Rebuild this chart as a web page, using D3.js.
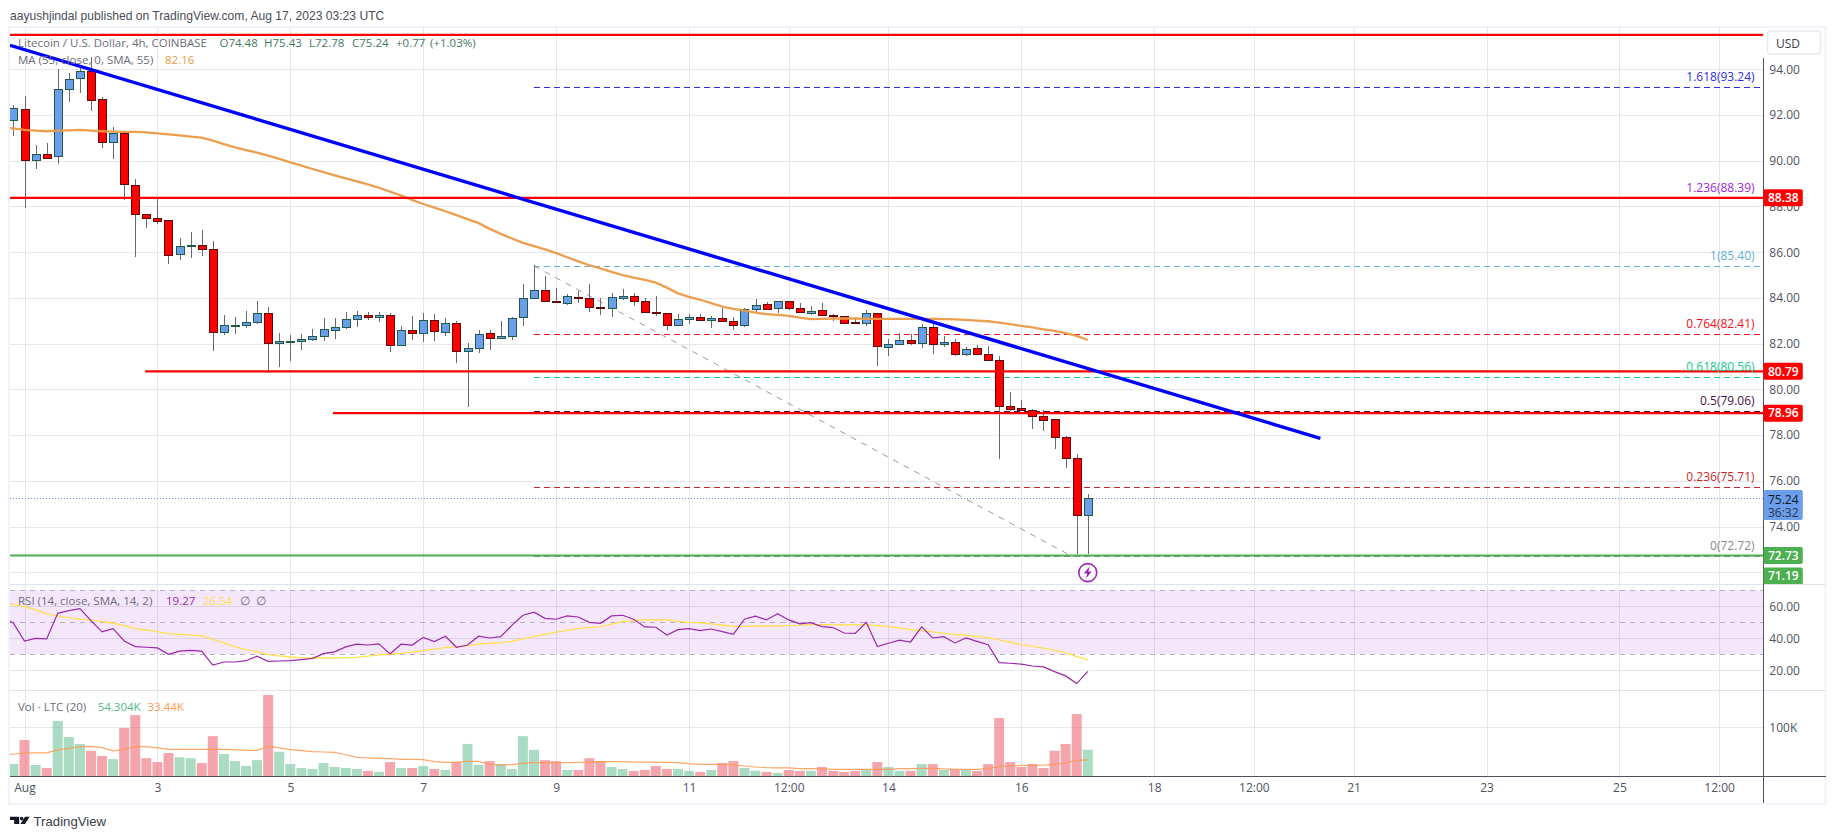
<!DOCTYPE html>
<html><head><meta charset="utf-8">
<script src="https://cdn.jsdelivr.net/npm/d3@7"></script>
<style>
html,body{margin:0;padding:0;background:#fff;overflow:hidden}
text{font-family:"Open Sans","Liberation Sans",sans-serif;font-size:12px}
</style></head><body>
<svg id="c" width="1835" height="839"></svg>
<script>
// candles: index 0 of these arrays is the candle before Aug 1 00:00 (4h candles)
const opens=[91.76,92.25,90.0,90.28,90.18,93.13,93.59,93.91,92.69,90.79,91.2,88.96,87.66,87.5,87.4,85.9,86.24,86.3,86.13,82.48,82.79,82.79,82.94,83.33,82.0,82.1,82.1,82.19,82.32,82.6,82.72,83.07,83.24,83.15,83.24,81.92,82.59,82.45,83.02,82.5,82.89,81.65,81.8,82.45,82.22,82.32,83.14,83.99,84.34,83.86,83.75,84.03,83.99,83.59,83.53,84.0,84.08,83.86,83.38,83.33,82.79,83.06,83.16,83.01,83.11,82.98,82.79,83.51,83.72,83.55,83.86,83.55,83.32,83.46,83.24,83.2,82.94,82.88,83.33,81.87,81.96,82.15,82.0,82.72,81.96,82.06,81.52,81.8,81.54,81.28,79.27,79.18,79.09,78.83,78.7,77.91,76.98,74.48];
const highs=[92.43,92.83,90.69,90.78,94.0,93.83,94.1,94.55,92.78,91.48,91.26,89.2,87.66,88.4,87.4,86.62,86.87,86.97,86.49,83.26,83.17,83.43,83.87,83.6,82.48,82.4,82.41,82.65,83.14,83.14,83.37,83.43,83.4,83.37,83.33,82.76,83.21,83.34,83.3,83.13,82.98,82.03,82.59,82.59,83.0,83.18,84.61,85.44,84.96,84.42,84.16,84.29,84.61,83.99,84.2,84.4,84.22,84.0,84.09,83.33,83.3,83.3,83.3,83.22,83.55,83.17,83.58,83.96,83.83,83.86,83.86,83.78,83.65,83.78,83.3,83.2,83.11,83.48,83.33,82.21,82.46,82.41,82.87,82.87,82.34,82.21,81.85,81.93,81.9,81.47,79.89,79.54,79.16,79.1,78.7,77.97,77.18,75.43];
const lows=[91.08,87.94,89.64,90.09,89.86,92.57,92.95,92.18,90.56,90.08,88.29,85.79,87.06,87.24,85.49,85.66,85.76,85.84,81.68,82.4,82.43,82.7,82.85,80.7,81.0,81.25,81.73,82.1,82.12,82.2,82.63,82.75,83.05,82.95,81.64,81.92,82.16,82.08,82.13,82.34,81.16,79.23,81.6,81.73,82.19,82.16,82.79,83.99,83.84,83.8,83.68,83.78,83.39,83.26,83.18,83.92,83.65,83.33,83.19,82.6,82.79,82.88,83.01,82.69,82.95,82.6,82.75,83.4,83.51,83.36,83.48,83.33,83.27,83.23,82.97,82.88,82.85,82.79,81.03,81.47,81.96,81.96,81.79,81.55,81.87,81.44,81.44,81.52,81.26,76.96,79.06,79.08,78.27,78.19,77.41,76.57,72.79,72.78];
const closes=[92.29,90.0,90.28,90.12,93.13,93.56,93.91,92.63,90.79,91.2,88.96,87.69,87.5,87.38,85.85,86.26,86.3,86.13,82.48,82.8,82.81,82.94,83.33,82.02,82.1,82.12,82.19,82.32,82.63,82.72,83.07,83.24,83.14,83.24,81.92,82.59,82.44,83.02,82.53,82.89,81.65,81.8,82.41,82.22,82.32,83.11,83.99,84.34,83.84,83.8,84.07,83.97,83.59,83.53,84.03,84.07,83.84,83.36,83.32,82.79,83.07,83.16,83.01,83.11,82.97,82.79,83.51,83.68,83.51,83.86,83.54,83.36,83.42,83.23,83.19,82.88,82.88,83.33,81.87,81.98,82.15,82.0,82.72,81.96,82.06,81.52,81.76,81.52,81.26,79.25,79.16,79.08,78.81,78.64,77.9,76.98,74.48,75.24];
const candleFirstIndex=-1;
const volumes=[25.2,74,23,17,113,80,66,52,41.5,35,98.6,125,37,29,47.6,39,37,27,82,45.6,31,21,33,166,50,25,17,15,27,19,17,15,11,9,29,17,17,21,15,13,29,66,23,31,25,15,82,54,33,31,13,13,37,31,19,15,11,13,21,15,15,11,9,13,27,31,17,11,9,7,13,11,11,19,11,9,11,15,29,19,11,11,25,25,13,15,13,11,25,119,29,19,25,17,52,66,127,54.3];
// line series: first value sits one candle earlier, running off the chart's left edge
const lineFirstIndex=-2;
const maValues=[91.44,91.42,91.35,91.32,91.29,91.32,91.33,91.35,91.32,91.29,91.27,91.26,91.26,91.24,91.2,91.15,91.11,91.06,91.01,90.88,90.73,90.59,90.47,90.36,90.22,90.08,89.93,89.79,89.64,89.5,89.36,89.23,89.1,88.97,88.82,88.65,88.48,88.29,88.11,87.95,87.79,87.62,87.45,87.27,87.02,86.8,86.6,86.41,86.27,86.12,85.96,85.78,85.6,85.43,85.29,85.14,85.0,84.89,84.79,84.67,84.45,84.2,84.05,83.92,83.77,83.62,83.52,83.45,83.36,83.29,83.26,83.22,83.14,83.07,83.08,83.1,83.1,83.1,83.09,83.08,83.08,83.08,83.08,83.08,83.08,83.07,83.06,83.04,83.01,82.98,82.92,82.85,82.78,82.71,82.63,82.56,82.46,82.34,82.16];
const rsiValues=[53.5,49.4,38.3,40,39.6,55.6,57.3,58.5,51,44,46,38.3,34.8,34.4,34,30,32,32.5,32,23.3,25.2,25.2,26,28.8,25.6,25.8,26,26.7,27.5,30.4,31.5,34.6,36.3,35.8,36.5,30.2,36.3,35.8,40.6,37.9,41.3,34.4,35.8,41.3,40.2,41,48.1,54.4,56.3,52.5,51.9,54,53.3,50,49.4,54,54.4,51.9,47.1,46.9,42.1,45.4,46,44.8,45.8,44.2,42.5,51.9,53.8,51.5,55.4,51.5,49,49.8,47.3,46.7,43.3,43.1,50,34.8,36.9,38.8,37.7,47.1,40.2,41,37.1,40.2,38.1,36,24.8,24.4,23.8,22.7,22.1,19.2,16.5,11.7,19.3];
const rsiMaValues=[62.9,61,59.8,57.7,55.2,54,52.9,52,51.5,50.4,49.4,47.9,46,45.2,44.2,42.9,42.5,42,41.5,39.4,37.1,34.6,32.9,31.7,29.8,29,28.3,27.9,27.7,27.7,27.7,27.9,28.1,28.8,29.6,30.2,30.6,31.3,32.3,33.3,34.2,34.6,35.4,36.3,36.9,37.3,38.1,39.6,41,42.5,43.8,45,46,46.7,47.3,48.8,50.4,51,51.5,51.7,51.5,50.6,50,49.6,49,48.3,47.5,47.5,47.7,47.7,47.7,47.9,48.1,48.5,48.5,48.5,48.3,48.5,48.5,47.9,47.3,46.3,45.4,44.8,44,43.1,42.5,41.9,41,40.4,39,37.5,36,35,33.8,32.5,31,28.5,26.7];
const volMaValues=[44,45,48,48,48,54,57,60.5,61,58.5,52,55,60.5,60.5,58,55,55,55,55,55,55,54.4,53,53,61,58,54.4,52.4,50.3,49.6,49,44,38.8,37.4,36.7,36,34.7,34.7,34,30,28.6,28.6,30.6,30.6,24.5,23,23.8,26.5,27.9,27.9,27.9,27.9,28.6,29,30,30,30,29,29,28.6,28.6,27.9,25.8,24.5,24.5,24.5,23.8,21,19,17.7,17,17,15.6,15.6,15,14.3,14.3,14.3,14.3,14.3,14.3,15.6,15.6,16.3,16.3,15,14.3,14.3,14.3,15.6,19.7,21,22.4,22.4,23,24.5,27.2,32.6,33.44];
// ticks
const priceTicks=[94,92,90,88,86,84,82,80,78,76,74,72];
const priceTickLabels=[94,92,90,88,86,84,82,80,78,76,74];
const rsiTicks=[60,40,20];
const rsiDashes=[70,50,30];
const volTicks=[100];
const timeTicks=[0,12,24,36,48,60,69,78,90,102,111,120,132,144,153];
const timeLabels=["Aug","3","5","7","9","11","12:00","14","16","18","12:00","21","23","25","12:00"];
// drawings
const hLevels=[95.51,88.38,80.79,78.96];
const hLevelStarts=[-2,-2,10.9,27.85];
const supportLevel=72.73;
const lastPrice=75.24;
const trendIndex=[-1.31,117];
const trendPrice=[95.05,77.86];
const fibRatios=["1.618","1.236","1","0.764","0.618","0.5","0.236","0"];
const fibPrices=[93.24,88.39,85.40,82.41,80.56,79.06,75.71,72.72];
const fibColors=["#2f2fe0","#9c27e0","#62aed6","#f01020","#10c98a","#4a1248","#c8282c","#888888"];
const fibStartIndex=46, fibEndIndex=156.7;
const fibDiagIndex=[46,94.5], fibDiagPrice=[85.40,72.72];
const tagPrices=[88.38,80.79,78.96,72.73,71.19];
const tagColors=["#ff0000","#ff0000","#ff0000","#4caf50","#4caf50"];

const svg=d3.select("#c");
const L=10,R=1763.3,FR=1825.5,T=27,B=804;
const x=d3.scaleLinear().domain([0,153]).range([24.5,1719.1]);
const y=d3.scaleLinear().domain([72,94]).range([572.3,69.3]);
const yR=d3.scaleLinear().domain([20,60]).range([670.3,606.3]);
const yV=d3.scaleLinear().domain([0,100]).range([776.3,727.3]);
const crisp=v=>Math.round(v)+.5;
const GRID="#e6e7ea",AX="#50535e",TXT="#6a6d78";

svg.append("rect").attr("x",L-1).attr("y",T).attr("width",FR-L+1).attr("height",B-T).attr("fill","#fff").attr("stroke","#f0f3fa").attr("stroke-width",2);
svg.append("defs").append("clipPath").attr("id","cl").append("rect").attr("x",L).attr("y",28).attr("width",R-L).attr("height",749);
svg.append("defs").append("clipPath").attr("id","clP").append("rect").attr("x",L).attr("y",28).attr("width",R-L).attr("height",556);

// header
svg.append("text").attr("x",10).attr("y",19.5).attr("fill","#4a4d57").style("font-family",'"Liberation Sans",sans-serif').style("font-size","12.1px").text("aayushjindal published on TradingView.com, Aug 17, 2023 03:23 UTC");

const grid=svg.append("g").attr("shape-rendering","crispEdges").attr("stroke",GRID);
grid.selectAll(".v").data(timeTicks).join("line").attr("x1",d=>crisp(x(d))).attr("x2",d=>crisp(x(d))).attr("y1",28).attr("y2",776);
grid.selectAll(".h").data(priceTicks).join("line").attr("x1",L).attr("x2",R).attr("y1",d=>crisp(y(d))).attr("y2",d=>crisp(y(d)));
grid.selectAll(".r").data(rsiTicks).join("line").attr("x1",L).attr("x2",R).attr("y1",d=>crisp(yR(d))).attr("y2",d=>crisp(yR(d)));
grid.selectAll(".vv").data(volTicks).join("line").attr("x1",L).attr("x2",R).attr("y1",d=>crisp(yV(d))).attr("y2",d=>crisp(yV(d)));

// panes separators
[584.3,690.3].forEach(v=>svg.append("line").attr("x1",L).attr("x2",FR).attr("y1",crisp(v)).attr("y2",crisp(v)).attr("stroke","#e0e3eb").attr("shape-rendering","crispEdges"));

// volume
const vg=svg.append("g").attr("clip-path","url(#cl)");
vg.selectAll("rect").data(volumes).join("rect")
 .attr("x",(d,k)=>x(k+candleFirstIndex)-5).attr("width",10)
 .attr("y",d=>yV(d)).attr("height",d=>yV(0)-yV(d))
 .attr("fill",(d,k)=>closes[k]>=opens[k]?"rgba(83,185,135,.5)":"rgba(235,77,92,.5)");
const lineOf=(sc)=>d3.line().x((d,k)=>x(k+lineFirstIndex)).y(d=>sc(d));
vg.append("path").attr("d",lineOf(yV)(volMaValues)).attr("fill","none").attr("stroke","#ff9850").attr("stroke-width",1.2).attr("opacity",.85);

// RSI
const rg=svg.append("g").attr("clip-path","url(#cl)");
rg.append("rect").attr("x",L).attr("width",R-L).attr("y",yR(70)).attr("height",yR(30)-yR(70)).attr("fill","rgba(156,39,225,.11)");
rg.selectAll(".d").data(rsiDashes).join("line").attr("x1",L).attr("x2",R).attr("y1",d=>crisp(yR(d))).attr("y2",d=>crisp(yR(d))).attr("stroke","#b6b2ba").attr("stroke-dasharray","5 5").attr("shape-rendering","crispEdges");
rg.append("path").attr("d",lineOf(yR)(rsiMaValues)).attr("fill","none").attr("stroke","#ffe04d").attr("stroke-width",1.3);
rg.append("path").attr("d",lineOf(yR)(rsiValues)).attr("fill","none").attr("stroke","#9c27a8").attr("stroke-width",1.2);

// price pane
const pg=svg.append("g").attr("clip-path","url(#clP)");
// fib
pg.selectAll(".fib").data(fibPrices).join("line").attr("x1",x(fibStartIndex)).attr("x2",x(fibEndIndex))
 .attr("y1",d=>crisp(y(d))).attr("y2",d=>crisp(y(d))).attr("stroke",(d,k)=>fibColors[k]).attr("stroke-dasharray","6 4").attr("shape-rendering","crispEdges");
pg.append("line").attr("x1",x(fibDiagIndex[0])).attr("y1",y(fibDiagPrice[0])).attr("x2",x(fibDiagIndex[1])).attr("y2",y(fibDiagPrice[1])).attr("stroke","#9a9a9a").attr("stroke-width",1).attr("stroke-dasharray","6 6");
// price line
pg.append("line").attr("x1",L).attr("x2",R).attr("y1",crisp(y(lastPrice))).attr("y2",crisp(y(lastPrice))).attr("stroke","#5b96f0").attr("stroke-dasharray","1 2").attr("shape-rendering","crispEdges");
// candles
const idx=d3.range(opens.length);
pg.selectAll(".wick").data(idx).join("line").attr("x1",k=>crisp(x(k+candleFirstIndex))).attr("x2",k=>crisp(x(k+candleFirstIndex)))
 .attr("y1",k=>y(highs[k])).attr("y2",k=>y(lows[k])).attr("stroke","#6a6a6e").attr("shape-rendering","crispEdges");
pg.selectAll(".body").data(idx).join("rect")
 .attr("x",k=>crisp(x(k+candleFirstIndex))-4).attr("width",8)
 .attr("y",k=>Math.round(y(Math.max(opens[k],closes[k])))+.5)
 .attr("height",k=>Math.max(1,Math.round(Math.abs(y(opens[k])-y(closes[k])))))
 .attr("fill",k=>closes[k]>=opens[k]?"#6a9eea":"#ff0000")
 .attr("stroke",k=>closes[k]>=opens[k]?"#1e5a46":"#5c0a0a").attr("shape-rendering","crispEdges");
pg.append("path").attr("d",lineOf(y)(maValues)).attr("fill","none").attr("stroke","#ea9a45").attr("stroke-width",2.3).attr("opacity",.95);
// horizontal drawn lines
pg.selectAll(".hl").data(hLevels).join("line").attr("x1",(d,k)=>x(hLevelStarts[k])).attr("x2",R).attr("y1",d=>y(d)).attr("y2",d=>y(d)).attr("stroke","#ff0000").attr("stroke-width",2.2);
pg.append("line").attr("x1",L).attr("x2",R).attr("y1",y(supportLevel)).attr("y2",y(supportLevel)).attr("stroke","#4caf50").attr("stroke-width",2);
pg.append("line").attr("x1",x(trendIndex[0])).attr("y1",y(trendPrice[0])).attr("x2",x(trendIndex[1])).attr("y2",y(trendPrice[1])).attr("stroke","#0000ff").attr("stroke-width",3.4);
// fib labels
svg.selectAll(".fl").data(fibPrices).join("text").attr("x",x(fibEndIndex)-5.5).attr("y",d=>y(d)-6).attr("text-anchor","end").attr("fill",(d,k)=>fibColors[k]).text((d,k)=>`${fibRatios[k]}(${d.toFixed(2)})`);

// lightning mark
const lm=svg.append("g").attr("transform",`translate(${x(96)},${y(72.73)+17})`);
lm.append("circle").attr("r",9).attr("fill","#fff").attr("stroke","#9c27b0").attr("stroke-width",1.6);
lm.append("path").attr("d","M1.8,-6 L-4,1 L-0.6,1 L-1.8,6 L4,-1.2 L0.6,-1.2 Z").attr("fill","#9c27b0");

// axes
const ga=svg.append("g").attr("transform",`translate(${R},0)`);
const styleAxis=g=>{g.select(".domain").remove();g.selectAll("line").remove();g.selectAll("text").attr("fill",AX).style("font-size","12px").style("font-family",'"Open Sans","Liberation Sans",sans-serif');};
ga.append("g").call(d3.axisRight(y).tickValues(priceTickLabels).tickSize(0).tickPadding(6).tickFormat(d3.format(".2f"))).call(styleAxis);
ga.append("g").call(d3.axisRight(yR).tickValues(rsiTicks).tickSize(0).tickPadding(6).tickFormat(d3.format(".2f"))).call(styleAxis);
ga.append("g").call(d3.axisRight(yV).tickValues(volTicks).tickSize(0).tickPadding(6).tickFormat(d=>d+"K")).call(styleAxis);
svg.append("g").attr("transform","translate(0,777)").call(d3.axisBottom(x).tickValues(timeTicks).tickSize(0).tickPadding(6).tickFormat((d,k)=>timeLabels[k])).call(styleAxis);
svg.append("line").attr("x1",L).attr("x2",FR).attr("y1",776.5).attr("y2",776.5).attr("stroke",AX).attr("shape-rendering","crispEdges");
svg.append("line").attr("x1",1763.5).attr("x2",1763.5).attr("y1",58).attr("y2",803).attr("stroke",AX).attr("shape-rendering","crispEdges");

// USD box
svg.append("rect").attr("x",1767.5).attr("y",31).attr("width",53).attr("height",23).attr("rx",3).attr("fill","#fff").attr("stroke","#e8eaf0").attr("stroke-width",1.5);
svg.append("text").attr("x",1776).attr("y",47.5).attr("fill","#3a3d46").text("USD");

// price tags
const tagG=svg.append("g");
tagG.append("clipPath").attr("id","clT").append("rect").attr("x",R).attr("y",28).attr("width",60).attr("height",556);
tagG.attr("clip-path","url(#clT)");
const tagY=p=>Math.min(y(p),576);
tagG.selectAll(".t").data(tagPrices).join("rect").attr("x",R).attr("width",39.5).attr("y",d=>tagY(d)-8.5).attr("height",17).attr("rx",2).attr("fill",(d,k)=>tagColors[k]);
tagG.selectAll(".tt").data(tagPrices).join("text").attr("x",R+20).attr("y",d=>tagY(d)+4.3).attr("text-anchor","middle").attr("fill","#fff").style("font-weight",600).text(d=>d.toFixed(2));
tagG.append("rect").attr("x",R).attr("width",39.5).attr("y",490).attr("height",30).attr("rx",2).attr("fill","#6a9eea");
tagG.append("text").attr("x",R+20).attr("y",503.5).attr("text-anchor","middle").attr("fill","#131722").text(lastPrice.toFixed(2));
tagG.append("text").attr("x",R+20).attr("y",516.5).attr("text-anchor","middle").attr("fill","#2a3350").text("36:32");

// legends
const leg=(xp,yp,col,s)=>svg.append("text").attr("x",xp).attr("y",yp).attr("fill",col).style("font-size","11.5px").text(s);
const G="#3f7a5e";
leg(18,46.5,TXT,"Litecoin / U.S. Dollar, 4h, COINBASE");
leg(219.5,46.5,G,"O74.48");leg(264,46.5,G,"H75.43");leg(309,46.5,G,"L72.78");leg(352,46.5,G,"C75.24");leg(396,46.5,G,"+0.77");leg(430,46.5,G,"(+1.03%)");
leg(18,63.5,TXT,"MA (55, close, 0, SMA, 55)");leg(165,63.5,"#ea9a40","82.16");
leg(18,604.5,TXT,"RSI (14, close, SMA, 14, 2)");leg(166,604.5,"#9c27b0","19.27");leg(203,604.5,"#ffe04d","26.54");leg(240,604.5,TXT,"∅");leg(256,604.5,TXT,"∅");
leg(18,710.5,TXT,"Vol · LTC (20)");leg(97.7,710.5,"#53b987","54.304K");leg(147.5,710.5,"#ff9850","33.44K");

// footer logo
const lg=svg.append("g").attr("fill","#131722");
lg.append("path").attr("d","M10,816.7H19.2V824H14.2V820H10Z");
lg.append("circle").attr("cx",21.6).attr("cy",818.6).attr("r",1.8);
lg.append("path").attr("d","M25,816.7H29.6L25,824H20.4Z");
svg.append("text").attr("x",33.5).attr("y",825.5).attr("fill","#3a3d46").style("font-family",'"Liberation Sans",sans-serif').style("font-size","13.2px").text("TradingView");
</script></body></html>
